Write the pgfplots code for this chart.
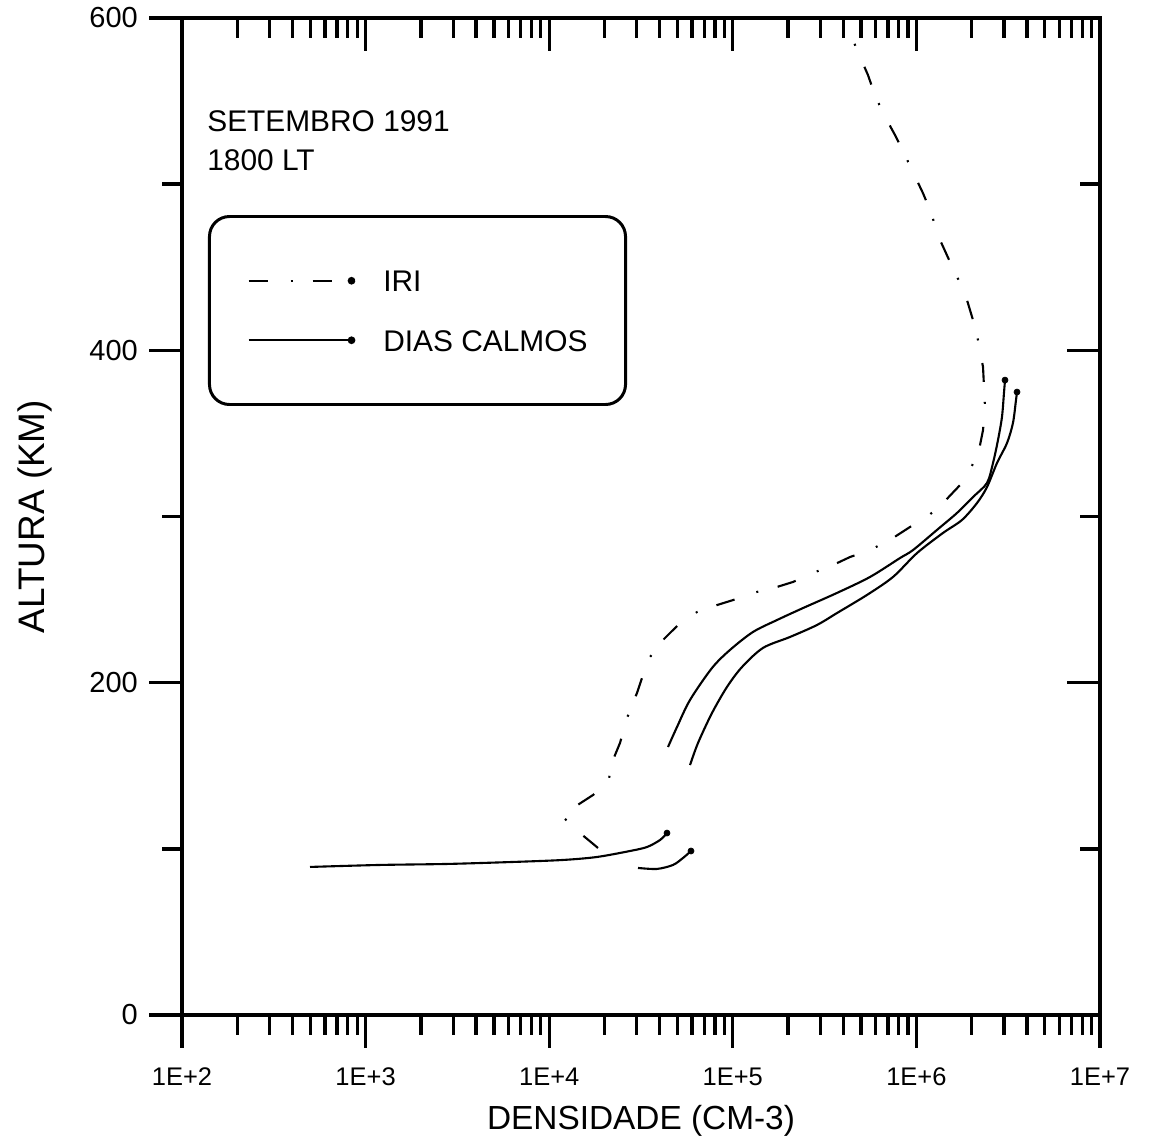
\documentclass[border=0pt]{standalone}
\usepackage{fontspec}
\setmainfont{Liberation Sans}
\usepackage{pgfplots}
\pgfplotsset{compat=1.18}
\pgfplotsset{legend image code/.code={\draw[#1] (0cm,0cm) -- (2.06cm,0cm); \fill (2.06cm,0cm) circle (0.055cm);}}
\begin{document}
\begin{tikzpicture}
\useasboundingbox (-3.64cm,-2.58cm) rectangle (19.44cm,20.30cm);
\begin{axis}[
    at={(0,0)}, anchor=south west,
    scale only axis, width=18.36cm, height=19.94cm,
    xmode=log, xmin=100, xmax=10000000, ymin=0, ymax=600,
    xtick={100,1000,10000,100000,1000000,10000000},
    minor xtick={200,300,400,500,600,700,800,900,
      2000,3000,4000,5000,6000,7000,8000,9000,
      20000,30000,40000,50000,60000,70000,80000,90000,
      200000,300000,400000,500000,600000,700000,800000,900000,
      2000000,3000000,4000000,5000000,6000000,7000000,8000000,9000000},
    ytick={0,200,400,600}, minor ytick={100,300,500},
    axis line style={line width=2.4pt, black},
    major tick length=0.66cm, minor tick length=0.4cm,
    tick style={black, line width=1.9pt},
    xtick pos=left, ytick pos=left, tick align=outside,
    xticklabels={1E+2,1E+3,1E+4,1E+5,1E+6,1E+7},
    yticklabels={0,200,400,600},
    xticklabel style={font=\fontsize{14.5}{17}\selectfont, yshift=-0.27cm},
    yticklabel style={font=\fontsize{16.5}{19}\selectfont, xshift=-0.1cm},
    xlabel={DENSIDADE (CM-3)}, ylabel={ALTURA (KM)},
    xlabel style={font=\fontsize{19}{22}\selectfont, at={(axis description cs:0.5,-0.1153)}, anchor=base},
    ylabel style={font=\fontsize{21}{24}\selectfont, at={(axis description cs:-0.1601,0.5)}, anchor=center},
    legend cell align=left,
    legend style={at={(rel axis cs:0.0283,0.8024)}, anchor=north west, draw=black, line width=1.7pt,
      rounded corners=0.4cm, inner xsep=0.76cm, inner ysep=1.07cm, row sep=0.76cm, column sep=0.56cm,
      font=\fontsize{17}{20}\selectfont, nodes={inner sep=0pt, text height=0.43cm, text depth=0pt}},
  ]
\addplot[black, line width=1.2pt, dash pattern=on 0.38cm off 0.46cm on 0.04cm off 0.40cm] coordinates {
(18450,100.5) (14720,109.5) (12190,118.0) (13480,124.6) (17330,132.4) (20900,139.6)
(22260,153.5) (24300,163.7) (26530,178.7) (30070,193.8) (32430,204.6) (35400,215.4)
(41690,225.7) (51570,235.9) (63830,242.5) (82000,246.7) (100200,249.7) (128800,254.0)
(174100,257.6) (212800,260.6) (273500,266.0) (351300,270.8) (434600,275.6) (558600,279.8)
(718000,285.9) (923000,293.7) (1142000,299.7) (1396000,308.1) (1728000,318.9) (1983000,329.2)
(2193000,340.0) (2306000,352.0) (2364000,365.9) (2306000,390.0) (2165000,406.2) (2033000,418.3)
(1886000,430.3) (1728000,440.5) (1524000,453.2) (1345000,466.4) (1186000,484.4) (1086000,494.6)
(946000,508.5) (855600,518.7) (764600,529.6) (657700,542.8) (594900,553.6) (544600,565.7)
(480800,579.5) (434600,591.0)
};
\addlegendentry{IRI}
\addplot[black, line width=1.2pt, smooth] coordinates {
(44370,161.3) (49660,173.3) (58480,189.6) (77030,208.8) (96540,219.7) (128800,230.5)
(174100,237.7) (241200,244.9) (369400,254.0) (558600,263.6) (814200,275.0) (958300,279.8)
(1294000,291.9) (1663000,302.1) (2033000,311.7) (2424000,320.2) (2614000,332.2) (2782000,346.0)
(2925000,359.9) (2999000,374.3) (3038000,382.1)
};
\addlegendentry{DIAS CALMOS}
\addplot[black, line width=1.2pt, smooth, forget plot] coordinates {
(58480,150.4) (64640,163.7) (77030,181.7) (92950,197.4) (112200,209.4) (146000,220.9)
(204900,227.5) (287400,234.7) (369400,241.9) (538300,252.8) (745600,263.6) (1008000,278.0)
(1396000,290.1) (1771000,297.9) (2138000,308.1) (2424000,317.7) (2748000,332.2) (3115000,344.2)
(3357000,356.3) (3487000,370.1) (3532000,374.9)
};
\addplot[black, line width=1.2pt, smooth, forget plot] coordinates {
(498,89.1) (1198,90.3) (2776,90.9) (6351,92.1) (11890,93.3) (18210,95.1) (27540,98.7)
(34100,101.1) (40130,105.3) (43810,109.5)
};
\addplot[black, line width=1.2pt, smooth, forget plot] coordinates {
(30460,88.5) (38640,87.9) (47240,90.3) (53560,94.5) (59200,98.7)
};
\addplot[only marks, mark=*, mark size=1.7pt, black, forget plot] coordinates {
(43810,109.5) (59200,98.7) (3038000,382.1) (3532000,374.9)
};
\node[anchor=base west, inner sep=0pt, font=\fontsize{17}{20}\selectfont] at (rel axis cs:0.0272,0.8857) {SETEMBRO 1991};
\node[anchor=base west, inner sep=0pt, font=\fontsize{17}{20}\selectfont] at (rel axis cs:0.0272,0.8475) {1800 LT};
\end{axis}
\begin{axis}[
    at={(0,0)}, anchor=south west,
    scale only axis, width=18.36cm, height=19.94cm,
    xmode=log, xmin=100, xmax=10000000, ymin=0, ymax=600,
    xtick={100,1000,10000,100000,1000000,10000000},
    minor xtick={200,300,400,500,600,700,800,900,
      2000,3000,4000,5000,6000,7000,8000,9000,
      20000,30000,40000,50000,60000,70000,80000,90000,
      200000,300000,400000,500000,600000,700000,800000,900000,
      2000000,3000000,4000000,5000000,6000000,7000000,8000000,9000000},
    ytick={0,200,400,600}, minor ytick={100,300,500},
    axis line style={line width=2.4pt, black},
    major tick length=0.66cm, minor tick length=0.4cm,
    tick style={black, line width=1.9pt},
    xtick pos=right, ytick pos=right, tick align=inside,
    xticklabels={}, yticklabels={},
  ]
\end{axis}
\end{tikzpicture}
\end{document}
